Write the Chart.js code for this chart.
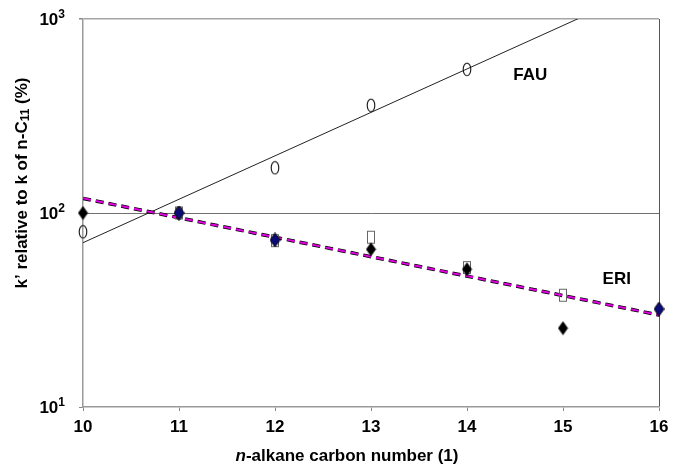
<!DOCTYPE html>
<html lang="en">
<head>
  <meta charset="utf-8">
  <title>Relative k' vs n-alkane carbon number</title>
  <script src="https://cdn.jsdelivr.net/npm/chart.js@4/dist/chart.umd.min.js"></script>
  <style>
    body { margin:0; background:#fff; }
    canvas { display:block; }
  </style>
</head>
<body>
  <canvas id="kChart" width="678" height="466"></canvas>

  <script>
    // carbon numbers and k' values (% of n-C11)
    const carbonFAU = [10, 11, 12, 13, 14];
    const kFAU = [80, 100, 171, 359, 550];
    const fauFitX = [10, 16];
    const fauFitY = [70.3, 1550];

    const carbonEriDiamond = [10, 13, 14, 15];
    const kEriDiamond = [100, 65, 51.3, 25.5];
    const carbonEriSquare = [11, 12, 13, 14, 15];
    const kEriSquare = [100, 72, 75, 52.3, 37.7];
    const carbonEriNavy = [11, 12, 16];
    const kEriNavy = [100, 72.6, 32];
    const eriFitX = [10, 16];
    const eriFitY = [119, 29.8];

    const yTicks = [10, 100, 1000];
    const yTickExp = ['1', '2', '3'];
    const seriesNames = ['FAU', 'ERI'];
    const seriesNameX = [14.66, 15.56];
    const seriesNameY = [514, 45.7];

    const FONT = '"Liberation Sans", Arial, sans-serif';
    const pts = (xs, ys) => xs.map((x, i) => ({x, y: ys[i]}));

    // small canvases used as point styles (markers are taller than wide)
    function marker(w, h, paint){
      const c = document.createElement('canvas');
      c.width = w; c.height = h;
      paint(c.getContext('2d'), w, h);
      return c;
    }
    const ellipseMark = marker(10, 15, (g, w, h) => {
      g.strokeStyle = '#111'; g.lineWidth = 1.1;
      g.beginPath(); g.ellipse(w/2, h/2, 3.8, 6.3, 0, 0, Math.PI*2); g.stroke();
    });
    const squareMark = marker(10, 15, (g, w, h) => {
      g.strokeStyle = '#666'; g.lineWidth = 1;
      g.strokeRect(1.5, 1.5, w-3, h-3);
    });
    function diamond(fill, edge){
      return marker(11, 15, (g, w, h) => {
        g.beginPath();
        g.moveTo(w/2, 0.5); g.lineTo(w-0.5, h/2); g.lineTo(w/2, h-0.5); g.lineTo(0.5, h/2);
        g.closePath();
        g.fillStyle = fill; g.fill();
        if (edge) { g.strokeStyle = edge; g.lineWidth = 1; g.stroke(); }
      });
    }
    const blackDiamond = diamond('#000');
    const navyDiamond = diamond('#0a0a78', '#000');

    const textPlugin = {
      id: 'chartText',
      afterDraw(chart){
        const ctx = chart.ctx;
        const xs = chart.scales.x, ys = chart.scales.y;
        const big = 'bold 17px ' + FONT;
        const ital = 'italic bold 17px ' + FONT;
        const sup = 'bold 12px ' + FONT;
        ctx.save();
        ctx.fillStyle = '#000';
        ctx.textBaseline = 'middle';

        // y tick labels as powers of ten
        ctx.textAlign = 'left';
        yTicks.forEach((v, i) => {
          const y = ys.getPixelForValue(v);
          ctx.font = big; const w10 = ctx.measureText('10').width;
          ctx.font = sup; const wE = ctx.measureText(yTickExp[i]).width;
          const x0 = xs.left - 18 - w10 - wE;
          ctx.font = big; ctx.fillText('10', x0, y + 1);
          ctx.font = sup; ctx.fillText(yTickExp[i], x0 + w10, y - 4);
        });

        // FAU / ERI labels
        ctx.font = big;
        ctx.textAlign = 'center';
        seriesNames.forEach((t, i) => {
          ctx.fillText(t, xs.getPixelForValue(seriesNameX[i]), ys.getPixelForValue(seriesNameY[i]));
        });

        // x title, italic "n"
        ctx.textAlign = 'left';
        ctx.font = ital; const wN = ctx.measureText('n').width;
        ctx.font = big; const rest = '-alkane carbon number (1)';
        const wR = ctx.measureText(rest).width;
        const tx = 347 - (wN + wR) / 2;
        ctx.font = ital; ctx.fillText('n', tx, 456);
        ctx.font = big; ctx.fillText(rest, tx + wN, 456);

        // y title with subscript
        ctx.translate(22, 183);
        ctx.rotate(-Math.PI / 2);
        const small = 'bold 12px ' + FONT;
        const parts = [["k’ relative to k of n-C", big, 0], ['11', small, 4], [' (%)', big, 0]];
        let total = 0;
        parts.forEach(p => { ctx.font = p[1]; p.push(ctx.measureText(p[0]).width); total += p[3]; });
        let px = -total / 2;
        parts.forEach(p => { ctx.font = p[1]; ctx.fillText(p[0], px, p[2]); px += p[3]; });
        ctx.restore();
      }
    };

    new Chart(document.getElementById('kChart'), {
      type: 'scatter',
      data: {
        datasets: [
          {data: pts(carbonEriNavy, kEriNavy), pointStyle: navyDiamond, clip: false},
          {data: pts(carbonEriDiamond, kEriDiamond), pointStyle: blackDiamond, clip: false},
          {data: pts(carbonEriSquare, kEriSquare), pointStyle: squareMark, clip: false},
          {data: pts(carbonFAU, kFAU), pointStyle: ellipseMark, clip: false},
          {type: 'line', data: pts(eriFitX, eriFitY), borderColor: '#e000e0', borderWidth: 2,
           borderDash: [8, 5], pointRadius: 0, fill: false},
          {type: 'line', data: pts(eriFitX, eriFitY), borderColor: '#000', borderWidth: 3.5,
           borderDash: [8, 5], pointRadius: 0, fill: false},
          {type: 'line', data: pts(fauFitX, fauFitY), borderColor: '#222', borderWidth: 1,
           pointRadius: 0, fill: false}
        ]
      },
      options: {
        responsive: false,
        animation: false,
        layout: {padding: {top: 19, right: 19, left: 0, bottom: 0}},
        plugins: {legend: {display: false}, tooltip: {enabled: false}},
        scales: {
          x: {
            type: 'linear', min: 10, max: 16,
            afterFit: s => { s.height = 59; },
            ticks: {stepSize: 1, color: '#000', padding: 6, font: {family: FONT, size: 17, weight: 'bold'}},
            grid: {
              color: c => c.tick && c.tick.value === 16 ? '#555' : 'rgba(0,0,0,0)',
              tickColor: '#888', tickLength: 4, lineWidth: 1
            },
            border: {color: '#9a9a9a', width: 1.5}
          },
          y: {
            type: 'logarithmic', min: 10, max: 1000,
            afterFit: s => { s.width = 83; },
            afterBuildTicks: s => { s.ticks = yTicks.map(v => ({value: v})); },
            ticks: {display: false},
            grid: {
              color: c => c.tick && c.tick.value === 100 ? '#707070' : (c.tick && c.tick.value === 1000 ? '#a6a6a6' : 'rgba(0,0,0,0)'),
              tickColor: '#888', tickLength: 4, lineWidth: c => c.tick && c.tick.value === 1000 ? 1.5 : 1
            },
            border: {color: '#9a9a9a', width: 1.5}
          }
        }
      },
      plugins: [textPlugin]
    });
  </script>
</body>
</html>
